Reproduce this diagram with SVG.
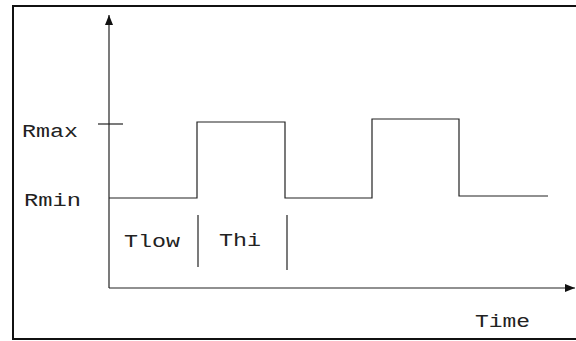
<svg xmlns="http://www.w3.org/2000/svg" width="576" height="341" viewBox="0 0 576 341">
<style>
.ln{fill:none;stroke:#222;stroke-width:1.2}
.t{font-family:"Liberation Mono","Courier New",monospace;font-size:19px;fill:#222}
</style>
<defs>
<marker id="ah" markerWidth="10" markerHeight="8" refX="10" refY="4" orient="auto" markerUnits="userSpaceOnUse">
<path d="M0,0 L10,4 L0,8 Z" fill="#111"/>
</marker>
</defs>
<rect x="13" y="6" width="570" height="333" fill="#fff" stroke="#111" stroke-width="2"/>
<g id="axes">
<line class="ln" x1="109" y1="288" x2="109" y2="15" marker-end="url(#ah)"/>
<line class="ln" x1="109" y1="288" x2="575" y2="288" marker-end="url(#ah)"/>
<line class="ln" x1="98" y1="124" x2="123" y2="124" stroke="#555"/>
</g>
<g id="signal">
<polyline class="ln" points="109,198 197,198 197,122 285,122 285,198 372,198 372,119 459,119 459,196 548,196"/>
</g>
<g id="markers">
<line class="ln" x1="198" y1="215" x2="198" y2="267"/>
<line class="ln" x1="287" y1="215" x2="287" y2="270"/>
</g>
<g id="labels">
<text class="t" x="22" y="137" textLength="56" lengthAdjust="spacingAndGlyphs">Rmax</text>
<text class="t" x="24" y="206" textLength="57" lengthAdjust="spacingAndGlyphs">Rmin</text>
<text class="t" x="124" y="247" textLength="56" lengthAdjust="spacingAndGlyphs">Tlow</text>
<text class="t" x="219" y="246" textLength="42" lengthAdjust="spacingAndGlyphs">Thi</text>
<text class="t" x="475" y="327" textLength="55" lengthAdjust="spacingAndGlyphs">Time</text>
</g>
</svg>
